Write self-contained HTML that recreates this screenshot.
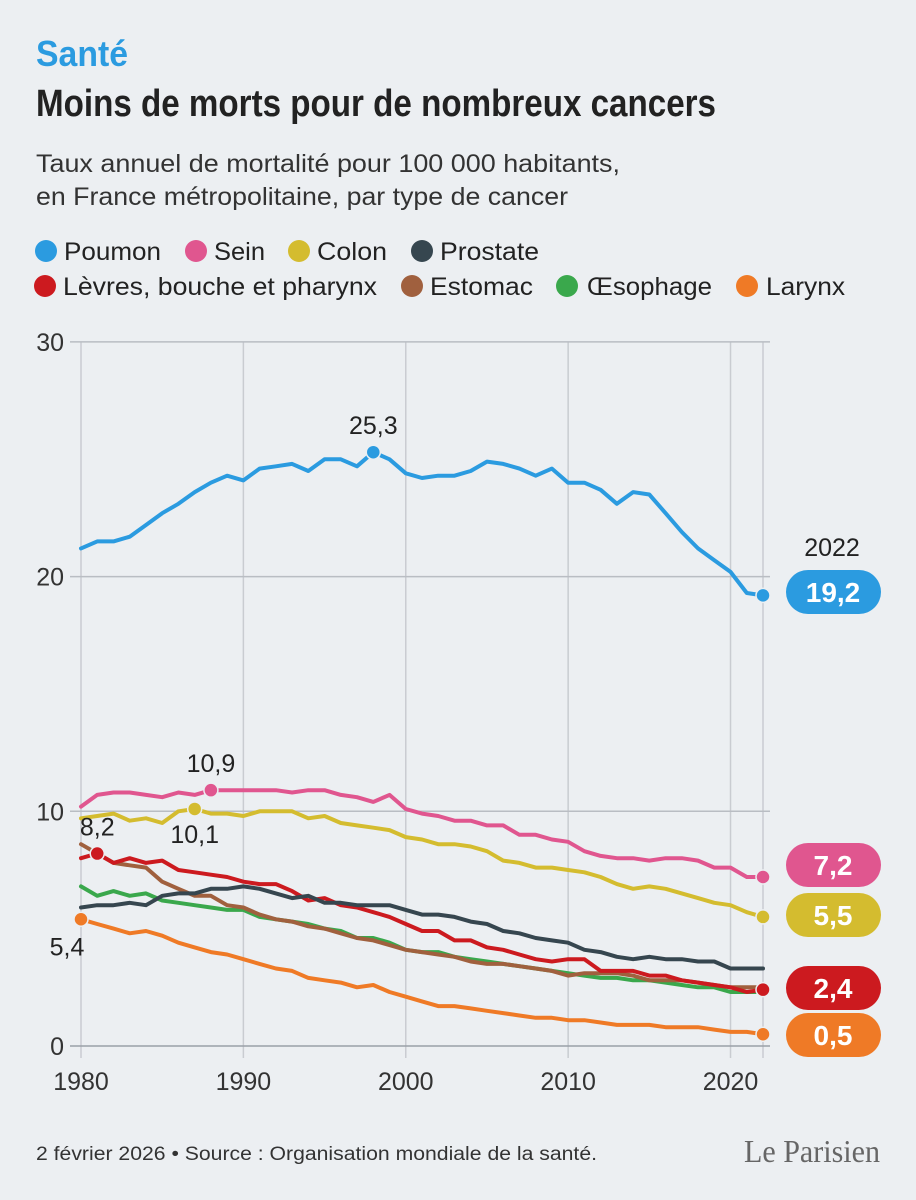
<!DOCTYPE html>
<html><head><meta charset="utf-8">
<style>
body{margin:0;background:#eceff2;}
#wrap{position:relative;width:916px;height:1200px;background:#eceff2;font-family:"Liberation Sans",sans-serif;color:#222;overflow:hidden}
</style></head>
<body>
<div id="wrap">
<svg id="chart" width="916" height="1200" style="position:absolute;left:0;top:0">
  <text x="36" y="66" font-size="36" font-weight="bold" fill="#2b9be0" textLength="92" lengthAdjust="spacingAndGlyphs">Santé</text>
  <text x="36" y="116" font-size="38" font-weight="bold" fill="#222" textLength="680" lengthAdjust="spacingAndGlyphs">Moins de morts pour de nombreux cancers</text>
  <text x="36" y="172" font-size="25" fill="#333" textLength="584" lengthAdjust="spacingAndGlyphs">Taux annuel de mortalité pour 100 000 habitants,</text>
  <text x="36" y="205" font-size="25" fill="#333" textLength="532" lengthAdjust="spacingAndGlyphs">en France métropolitaine, par type de cancer</text>
  <g id="legend"></g>
  <g id="grid"></g>
  <g id="series"></g>
  <g id="labels"></g>
  <text x="36" y="1160" font-size="19" fill="#333" textLength="561" lengthAdjust="spacingAndGlyphs">2 février 2026 • Source : Organisation mondiale de la santé.</text>
  <text x="880" y="1162" font-size="32" text-anchor="end" fill="#666" font-family="Liberation Serif, serif" textLength="136" lengthAdjust="spacingAndGlyphs">Le Parisien</text>
</svg>
</div>
<script>
const years = [1980,1981,1982,1983,1984,1985,1986,1987,1988,1989,1990,1991,1992,1993,1994,1995,1996,1997,1998,1999,2000,2001,2002,2003,2004,2005,2006,2007,2008,2009,2010,2011,2012,2013,2014,2015,2016,2017,2018,2019,2020,2021,2022];
const seriesNames = ["Poumon","Sein","Colon","Prostate","Lèvres, bouche et pharynx","Estomac","Œsophage","Larynx"];
const poumon = [21.2,21.5,21.5,21.7,22.2,22.7,23.1,23.6,24.0,24.3,24.1,24.6,24.7,24.8,24.5,25.0,25.0,24.7,25.3,25.0,24.4,24.2,24.3,24.3,24.5,24.9,24.8,24.6,24.3,24.6,24.0,24.0,23.7,23.1,23.6,23.5,22.7,21.9,21.2,20.7,20.2,19.3,19.2];
const sein = [10.2,10.7,10.8,10.8,10.7,10.6,10.8,10.7,10.9,10.9,10.9,10.9,10.9,10.8,10.9,10.9,10.7,10.6,10.4,10.7,10.1,9.9,9.8,9.6,9.6,9.4,9.4,9.0,9.0,8.8,8.7,8.3,8.1,8.0,8.0,7.9,8.0,8.0,7.9,7.6,7.6,7.2,7.2];
const colon = [9.7,9.8,9.9,9.6,9.7,9.5,10.0,10.1,9.9,9.9,9.8,10.0,10.0,10.0,9.7,9.8,9.5,9.4,9.3,9.2,8.9,8.8,8.6,8.6,8.5,8.3,7.9,7.8,7.6,7.6,7.5,7.4,7.2,6.9,6.7,6.8,6.7,6.5,6.3,6.1,6.0,5.7,5.5];
const prostate = [5.9,6.0,6.0,6.1,6.0,6.4,6.5,6.5,6.7,6.7,6.8,6.7,6.5,6.3,6.4,6.1,6.1,6.0,6.0,6.0,5.8,5.6,5.6,5.5,5.3,5.2,4.9,4.8,4.6,4.5,4.4,4.1,4.0,3.8,3.7,3.8,3.7,3.7,3.6,3.6,3.3,3.3,3.3];
const levres = [8.0,8.2,7.8,8.0,7.8,7.9,7.5,7.4,7.3,7.2,7.0,6.9,6.9,6.6,6.2,6.3,6.0,5.9,5.7,5.5,5.2,4.9,4.9,4.5,4.5,4.2,4.1,3.9,3.7,3.6,3.7,3.7,3.2,3.2,3.2,3.0,3.0,2.8,2.7,2.6,2.5,2.3,2.4];
const estomac = [8.6,8.2,7.8,7.7,7.6,7.0,6.7,6.4,6.4,6.0,5.9,5.6,5.4,5.3,5.1,5.0,4.8,4.6,4.5,4.3,4.1,4.0,3.9,3.8,3.6,3.5,3.5,3.4,3.3,3.2,3.0,3.1,3.1,3.1,3.0,2.8,2.8,2.8,2.7,2.6,2.5,2.5,2.5];
const oesophage = [6.8,6.4,6.6,6.4,6.5,6.2,6.1,6.0,5.9,5.8,5.8,5.5,5.4,5.3,5.2,5.0,4.9,4.6,4.6,4.4,4.1,4.0,4.0,3.8,3.7,3.6,3.5,3.4,3.3,3.2,3.1,3.0,2.9,2.9,2.8,2.8,2.7,2.6,2.5,2.5,2.3,2.3,2.3];
const larynx = [5.4,5.2,5.0,4.8,4.9,4.7,4.4,4.2,4.0,3.9,3.7,3.5,3.3,3.2,2.9,2.8,2.7,2.5,2.6,2.3,2.1,1.9,1.7,1.7,1.6,1.5,1.4,1.3,1.2,1.2,1.1,1.1,1.0,0.9,0.9,0.9,0.8,0.8,0.8,0.7,0.6,0.6,0.5];
const yTicks = [0,10,20,30];
const xTicks = [1980,1990,2000,2010,2020];

const allSeries = [poumon,sein,colon,prostate,levres,estomac,oesophage,larynx];
const colors = ["#2b9be0","#e0568f","#d4bc2f","#36464f","#cc1a1f","#a0603e","#3aa84c","#ef7a26"];
const slugs = ["poumon","sein","colon","prostate","levres","estomac","oesophage","larynx"];
const NS="http://www.w3.org/2000/svg";
const X = y => 81 + (y-1980)*(763-81)/42;
const Y = v => 1046 - v*23.47;
function mk(tag, attrs, parent){const e=document.createElementNS(NS,tag);for(const k in attrs)e.setAttribute(k,attrs[k]);parent.appendChild(e);return e;}

// legend
const legend=document.getElementById('legend');
const legDot=[[46,251],[196,251],[299,251],[422,251],[45,286],[412,286],[567,286],[747,286]];
const legTx=[64,214,317,440,63,430,587,766];
const legW=[97,51,70,99,314,103,125,79];
seriesNames.forEach((n,i)=>{
  const g=mk('g',{},legend);
  
  
  mk('circle',{cx:legDot[i][0],cy:legDot[i][1],r:11,fill:colors[i]},g);
  const t=mk('text',{x:legTx[i],y:legDot[i][1]+9,'font-size':25,fill:'#222',textLength:legW[i],lengthAdjust:'spacingAndGlyphs'},g);
  t.textContent=n;
});

// grid
const grid=document.getElementById('grid');
xTicks.concat([2022]).forEach(y=>{
  const l=mk('line',{x1:X(y),x2:X(y),y1:342,y2:1058,stroke:'#c9ccd1','stroke-width':1.5},grid);
  
  
});
yTicks.forEach(v=>{
  const l=mk('line',{x1:70,x2:770,y1:Y(v),y2:Y(v),stroke:v===0?'#9aa0a8':'#b9bdc3','stroke-width':1.5},grid);
  
  
  const t=mk('text',{x:64,y:Y(v)+9,'font-size':25,'text-anchor':'end',fill:'#333'},grid);
  
  
  t.textContent=v;
});
xTicks.forEach(y=>{
  const t=mk('text',{x:X(y),y:1090,'font-size':25,'text-anchor':'middle',fill:'#333'},grid);
  
  
  t.textContent=y;
});

// series
const ser=document.getElementById('series');
[7,6,5,4,3,2,1,0].forEach(i=>{
  const d=allSeries[i].map((v,k)=>(k?'L':'M')+X(years[k]).toFixed(1)+','+Y(v).toFixed(1)).join(' ');
  const p=mk('path',{d:d,fill:'none',stroke:colors[i],'stroke-width':4,'stroke-linejoin':'round','stroke-linecap':'round'},ser);
  
  
});

// annotations
const lab=document.getElementById('labels');
function fmt(v){return v.toFixed(1).replace('.',',');}
const annSeries=[0,1,2,4,7];
const annIdx=[18,8,7,1,0];
const annDx=[0,0,0,0,-14];
const annDy=[-18,-18,34,-18,36];
annSeries.forEach((s,j)=>{
  const k=annIdx[j], v=allSeries[s][k];
  const c=mk('circle',{cx:X(years[k]),cy:Y(v),r:7,fill:colors[s],stroke:'#eceff2','stroke-width':1.5},lab);
  
  
  const t=mk('text',{x:X(years[k])+annDx[j],y:Y(v)+annDy[j],'font-size':25,'text-anchor':'middle',fill:'#222'},lab);
  
  
  t.textContent=fmt(v);
});
const t22=mk('text',{x:832,y:556,'font-size':25,'text-anchor':'middle',fill:'#222'},lab);


t22.textContent='2022';
const endSeries=[0,1,2,4,7];
const pillY=[592,865,915,988,1035];
endSeries.forEach((s,j)=>{
  const v=allSeries[s][42];
  const c=mk('circle',{cx:X(2022),cy:Y(v),r:7,fill:colors[s],stroke:'#eceff2','stroke-width':1.5},lab);
  
  
  const r=mk('rect',{x:786,y:pillY[j]-22,width:95,height:44,rx:22,fill:colors[s]},lab);
  
  
  const t=mk('text',{x:833,y:pillY[j]+10,'font-size':28,'font-weight':'bold','text-anchor':'middle',fill:'#fff'},lab);
  
  
  t.textContent=fmt(v);
});
</script>
</body></html>
